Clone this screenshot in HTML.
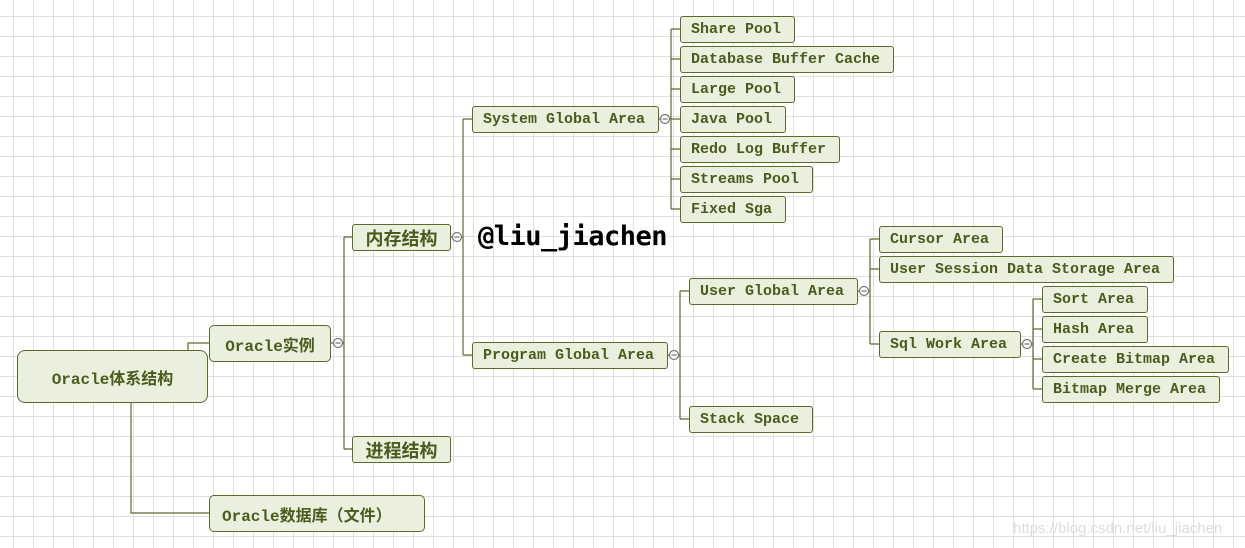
<!DOCTYPE html>
<html><head><meta charset="utf-8"><style>
body{margin:0;width:1245px;height:548px;overflow:hidden;background:#fff;position:relative;
background-image:linear-gradient(to right,#e0e0e0 1px,transparent 1px),linear-gradient(to bottom,#e0e0e0 1px,transparent 1px);
background-size:20px 20px;background-position:13px 16px;}
.n{position:absolute;box-sizing:border-box;background:#ebefdd;border:1px solid #5a6b2c;border-radius:3px;
color:#4c5b1d;font:bold 15px "Liberation Mono","Noto Sans CJK SC",monospace;display:flex;align-items:center;padding-left:10px;white-space:pre;}
.c{justify-content:center;padding-left:0}
svg{position:absolute;left:0;top:0}
</style></head><body>
<svg width="1245" height="548" stroke="#5a6b2c" fill="none" stroke-width="1.2">
<path d="M188 350V343H209M131 402V513H209"/>
<path d="M344 237V449M344 237H352M344 449H352M330 343H344"/>
<path d="M463 119V355M463 119H472M463 355H472M450 237H463"/>
<path d="M671 29V209M658 119H680M671 29H680M671 59H680M671 89H680M671 149H680M671 179H680M671 209H680"/>
<path d="M680 291V419M667 355H680M680 291H689M680 419H689"/>
<path d="M870 239V344M857 291H870M870 239H879M870 269H879M870 344H879"/>
<path d="M1033 299V389M1020 344H1033M1033 299H1042M1033 329H1042M1033 359H1042M1033 389H1042"/>
<g fill="#fff" stroke="#777"><circle cx="338" cy="343" r="4.5"/><circle cx="457" cy="237" r="4.5"/><circle cx="665" cy="119" r="4.5"/><circle cx="674" cy="355" r="4.5"/><circle cx="864" cy="291" r="4.5"/><circle cx="1027" cy="344" r="4.5"/></g>
<g stroke="#777"><path d="M335.5 343h5M454.5 237h5M662.5 119h5M671.5 355h5M861.5 291h5M1024.5 344h5"/></g>
</svg>
<div class="n c" style="left:17px;top:350px;width:191px;height:53px;border-radius:8px;font-size:16px">Oracle体系结构</div>
<div class="n c" style="left:209px;top:325px;width:122px;height:37px;border-radius:5px;font-size:16px">Oracle实例</div>
<div class="n c" style="left:352px;top:224px;width:99px;height:27px;font-size:18px">内存结构</div>
<div class="n c" style="left:352px;top:436px;width:99px;height:27px;font-size:18px">进程结构</div>
<div class="n" style="left:209px;top:495px;width:216px;height:37px;border-radius:5px;font-size:16px;padding-left:12px">Oracle数据库（文件）</div>
<div class="n" style="left:472px;top:106px;width:187px;height:27px">System Global Area</div>
<div class="n" style="left:472px;top:342px;width:196px;height:27px">Program Global Area</div>
<div class="n" style="left:680px;top:16px;width:115px;height:27px">Share Pool</div>
<div class="n" style="left:680px;top:46px;width:214px;height:27px">Database Buffer Cache</div>
<div class="n" style="left:680px;top:76px;width:115px;height:27px">Large Pool</div>
<div class="n" style="left:680px;top:106px;width:106px;height:27px">Java Pool</div>
<div class="n" style="left:680px;top:136px;width:160px;height:27px">Redo Log Buffer</div>
<div class="n" style="left:680px;top:166px;width:133px;height:27px">Streams Pool</div>
<div class="n" style="left:680px;top:196px;width:106px;height:27px">Fixed Sga</div>
<div class="n" style="left:689px;top:278px;width:169px;height:27px">User Global Area</div>
<div class="n" style="left:689px;top:406px;width:124px;height:27px">Stack Space</div>
<div class="n" style="left:879px;top:226px;width:124px;height:27px">Cursor Area</div>
<div class="n" style="left:879px;top:256px;width:295px;height:27px">User Session Data Storage Area</div>
<div class="n" style="left:879px;top:331px;width:142px;height:27px">Sql Work Area</div>
<div class="n" style="left:1042px;top:286px;width:106px;height:27px">Sort Area</div>
<div class="n" style="left:1042px;top:316px;width:106px;height:27px">Hash Area</div>
<div class="n" style="left:1042px;top:346px;width:187px;height:27px">Create Bitmap Area</div>
<div class="n" style="left:1042px;top:376px;width:178px;height:27px">Bitmap Merge Area</div>
<div style="position:absolute;left:478px;top:221px;font:bold 27px 'DejaVu Sans Mono','Liberation Mono',monospace;color:#000;letter-spacing:-0.5px">@liu_jiachen</div>
<div style="position:absolute;left:1013px;top:520px;font:15px 'Liberation Sans',sans-serif;color:#ddd">https://blog.csdn.net/liu_jiachen</div>
</body></html>
